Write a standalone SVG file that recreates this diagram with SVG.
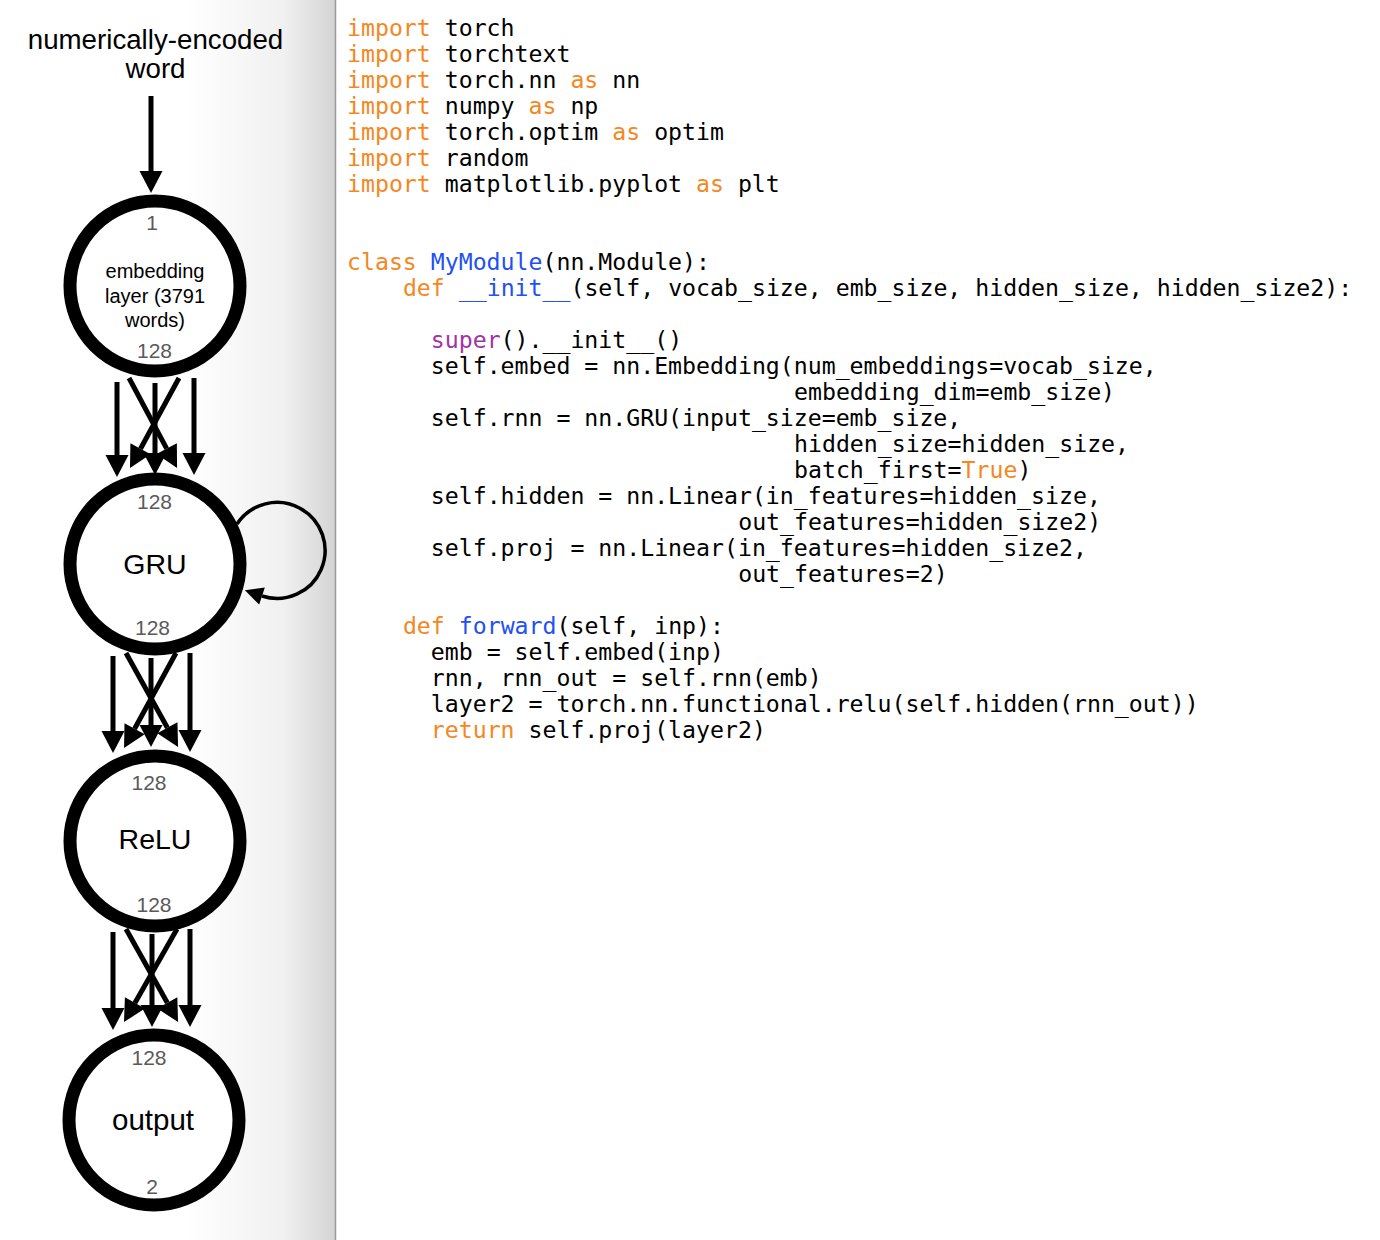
<svg xmlns="http://www.w3.org/2000/svg" width="1380" height="1240" viewBox="0 0 1380 1240">
<defs>
<linearGradient id="panel" gradientUnits="userSpaceOnUse" x1="0" y1="0" x2="335" y2="0">
<stop offset="0" stop-color="#ffffff"/>
<stop offset="0.55" stop-color="#ffffff"/>
<stop offset="0.85" stop-color="#f0f0f0"/>
<stop offset="1" stop-color="#d4d4d4"/>
</linearGradient>
<marker id="ah" markerUnits="userSpaceOnUse" markerWidth="24" markerHeight="24" viewBox="0 -12 22 24" refX="0" refY="0" orient="auto">
<path d="M0,-11.5 L22,0 L0,11.5 z" fill="#000"/>
</marker>
<marker id="ah2" markerUnits="userSpaceOnUse" markerWidth="20" markerHeight="20" viewBox="0 -10 18 20" refX="0" refY="0" orient="auto">
<path d="M0,-9 L18,0 L0,9 z" fill="#000"/>
</marker>
</defs>
<style>
.node{fill:#fff;stroke:#000;stroke-width:13}
.lbl{font-family:"Liberation Sans",Arial,Helvetica,sans-serif;fill:#000;text-anchor:middle}
.num{font-family:"Liberation Sans",Arial,Helvetica,sans-serif;fill:#5a5a5a;text-anchor:middle;font-size:21px}
.edge{stroke:#000;stroke-width:5;fill:none;marker-end:url(#ah)}
.code{font-family:"DejaVu Sans Mono","Liberation Mono",monospace;font-size:23.2px;fill:#000}
.k{fill:#F5871F}
.b{fill:#2350F5}
.p{fill:#A233A6}
</style>
<rect x="0" y="0" width="1380" height="1240" fill="#fff"/>
<rect x="0" y="0" width="335" height="1240" fill="url(#panel)"/>
<line x1="335.5" y1="0" x2="335.5" y2="1240" stroke="#9a9a9a" stroke-width="1.5"/>

<g id="title">
<text class="lbl" x="155.5" y="49" font-size="27.7">numerically-encoded</text>
<text class="lbl" x="155.5" y="78" font-size="27.7">word</text>
</g>

<g id="connectors">
<path class="edge" d="M151,96 L151,171"/>
<path class="edge" d="M117,382 L117,455"/>
<path class="edge" d="M155,383 L155,453"/>
<path class="edge" d="M194,378 L194,453"/>
<path class="edge" d="M129,378 L166.7,448.6"/>
<path class="edge" d="M179,378 L140.5,448.7"/>
<path class="edge" d="M113,656 L113,731"/>
<path class="edge" d="M151,658 L151,725"/>
<path class="edge" d="M190,653 L190,730"/>
<path class="edge" d="M126,653 L167.4,727.7"/>
<path class="edge" d="M176,653 L134.6,728.7"/>
<path class="edge" d="M113,932 L113,1008"/>
<path class="edge" d="M152,934 L152,1005"/>
<path class="edge" d="M190,929 L190,1005"/>
<path class="edge" d="M126,929 L167.3,1002.8"/>
<path class="edge" d="M177,929 L134.9,1002.9"/>
<path d="M237,524 A48,48 0 1 1 262,596" fill="none" stroke="#000" stroke-width="3.5" marker-end="url(#ah2)"/>
</g>

<g id="node-embedding">
<circle class="node" cx="155" cy="286" r="85"/>
<text class="num" x="152" y="230">1</text>
<text class="lbl" x="155" y="278" font-size="20">embedding</text>
<text class="lbl" x="155" y="303" font-size="20">layer (3791</text>
<text class="lbl" x="155" y="327" font-size="20">words)</text>
<text class="num" x="154.5" y="358">128</text>
</g>

<g id="node-gru">
<circle class="node" cx="155" cy="564" r="85"/>
<text class="num" x="154.5" y="509">128</text>
<text class="lbl" x="155" y="574" font-size="28.5">GRU</text>
<text class="num" x="152.5" y="635">128</text>
</g>

<g id="node-relu">
<circle class="node" cx="155" cy="841" r="85"/>
<text class="num" x="149" y="790">128</text>
<text class="lbl" x="155" y="849" font-size="28.5">ReLU</text>
<text class="num" x="154" y="912">128</text>
</g>

<g id="node-output">
<circle class="node" cx="154" cy="1120" r="85"/>
<text class="num" x="149" y="1065">128</text>
<text class="lbl" x="153" y="1130" font-size="29.5">output</text>
<text class="num" x="152" y="1194">2</text>
</g>

<g id="code" class="code">
<text x="347" y="36"><tspan class="k">import</tspan> torch</text>
<text x="347" y="62"><tspan class="k">import</tspan> torchtext</text>
<text x="347" y="88"><tspan class="k">import</tspan> torch.nn <tspan class="k">as</tspan> nn</text>
<text x="347" y="114"><tspan class="k">import</tspan> numpy <tspan class="k">as</tspan> np</text>
<text x="347" y="140"><tspan class="k">import</tspan> torch.optim <tspan class="k">as</tspan> optim</text>
<text x="347" y="166"><tspan class="k">import</tspan> random</text>
<text x="347" y="192"><tspan class="k">import</tspan> matplotlib.pyplot <tspan class="k">as</tspan> plt</text>
<text x="347" y="270"><tspan class="k">class</tspan> <tspan class="b">MyModule</tspan>(nn.Module):</text>
<text x="402.9" y="296"><tspan class="k">def</tspan> <tspan class="b">__init__</tspan>(self, vocab_size, emb_size, hidden_size, hidden_size2):</text>
<text x="430.8" y="348"><tspan class="p">super</tspan>().__init__()</text>
<text x="430.8" y="374">self.embed = nn.Embedding(num_embeddings=vocab_size,</text>
<text x="794" y="400">embedding_dim=emb_size)</text>
<text x="430.8" y="426">self.rnn = nn.GRU(input_size=emb_size,</text>
<text x="794" y="452">hidden_size=hidden_size,</text>
<text x="794" y="478">batch_first=<tspan class="k">True</tspan>)</text>
<text x="430.8" y="504">self.hidden = nn.Linear(in_features=hidden_size,</text>
<text x="738.2" y="530">out_features=hidden_size2)</text>
<text x="430.8" y="556">self.proj = nn.Linear(in_features=hidden_size2,</text>
<text x="738.2" y="582">out_features=2)</text>
<text x="402.9" y="634"><tspan class="k">def</tspan> <tspan class="b">forward</tspan>(self, inp):</text>
<text x="430.8" y="660">emb = self.embed(inp)</text>
<text x="430.8" y="686">rnn, rnn_out = self.rnn(emb)</text>
<text x="430.8" y="712">layer2 = torch.nn.functional.relu(self.hidden(rnn_out))</text>
<text x="430.8" y="738"><tspan class="k">return</tspan> self.proj(layer2)</text>
</g>
</svg>
